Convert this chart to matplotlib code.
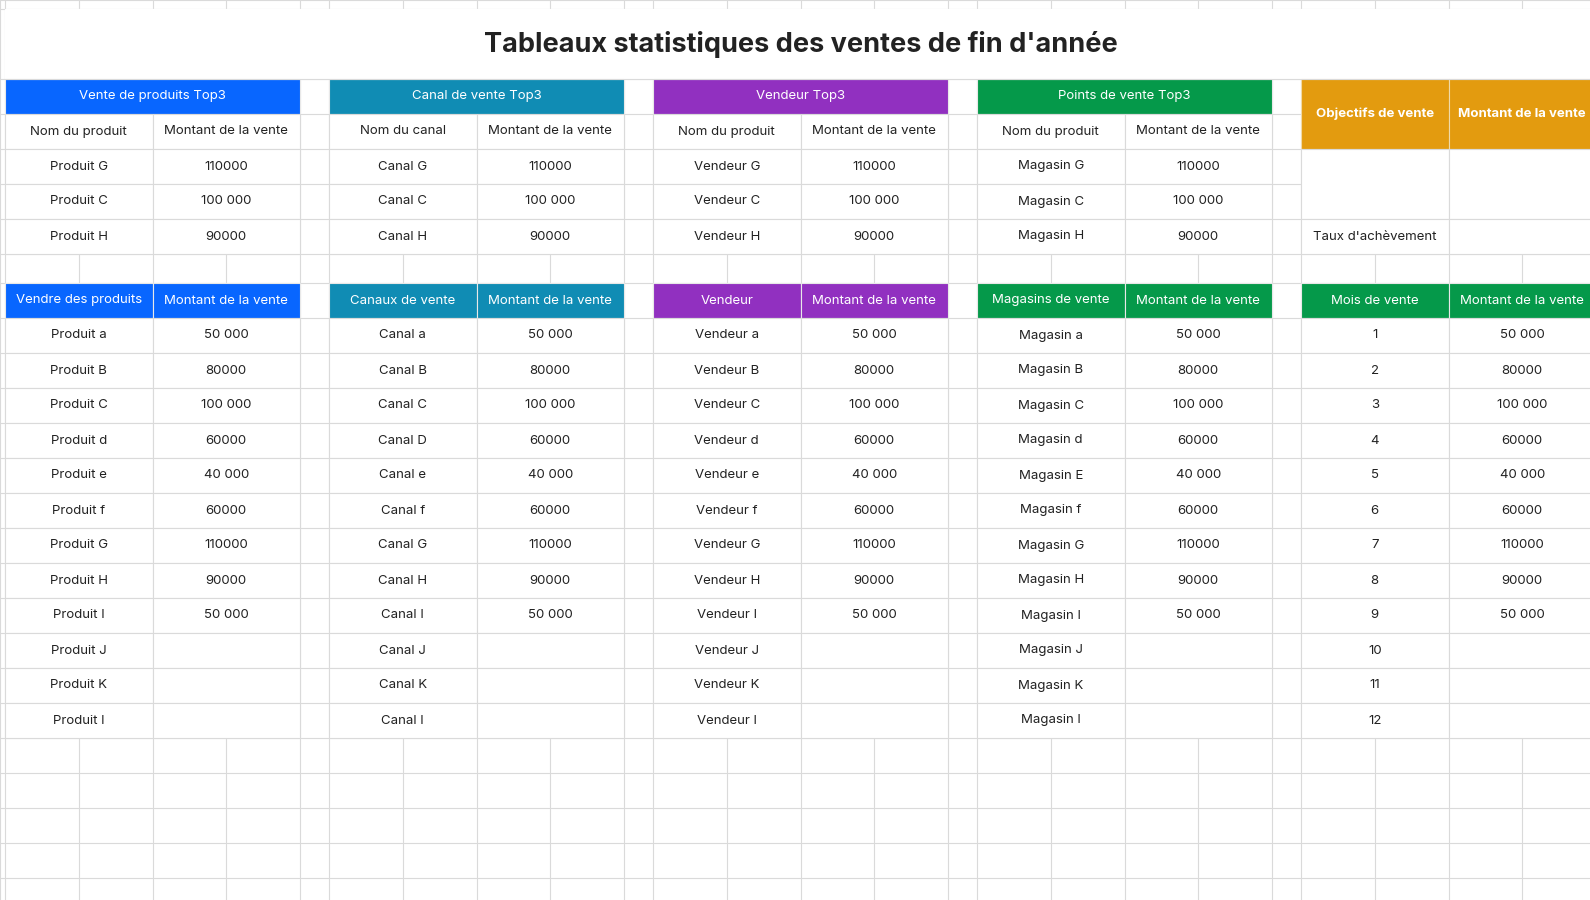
import matplotlib
matplotlib.use("Agg")
import matplotlib.pyplot as plt
from matplotlib.patches import Rectangle

plt.rcParams['font.family'] = ['Inter', 'DejaVu Sans']

title = "Tableaux statistiques des ventes de fin d'année"
top_titles = ["Vente de produits Top3", "Canal de vente Top3", "Vendeur Top3", "Points de vente Top3"]
top_sub = ["Nom du produit", "Nom du canal", "Nom du produit", "Nom du produit"]
top_names = [["Produit G", "Produit C", "Produit H"],
             ["Canal G", "Canal C", "Canal H"],
             ["Vendeur G", "Vendeur C", "Vendeur H"],
             ["Magasin G", "Magasin C", "Magasin H"]]
top_amounts = ["110000", "100 000", "90000"]
bottom_headers = ["Vendre des produits", "Canaux de vente", "Vendeur", "Magasins de vente", "Mois de vente"]
bottom_names = [
    ["Produit a", "Produit B", "Produit C", "Produit d", "Produit e", "Produit f", "Produit G", "Produit H", "Produit I", "Produit J", "Produit K", "Produit l"],
    ["Canal a", "Canal B", "Canal C", "Canal D", "Canal e", "Canal f", "Canal G", "Canal H", "Canal I", "Canal J", "Canal K", "Canal l"],
    ["Vendeur a", "Vendeur B", "Vendeur C", "Vendeur d", "Vendeur e", "Vendeur f", "Vendeur G", "Vendeur H", "Vendeur I", "Vendeur J", "Vendeur K", "Vendeur l"],
    ["Magasin a", "Magasin B", "Magasin C", "Magasin d", "Magasin E", "Magasin f", "Magasin G", "Magasin H", "Magasin I", "Magasin J", "Magasin K", "Magasin l"],
    ["1", "2", "3", "4", "5", "6", "7", "8", "9", "10", "11", "12"]]
bottom_amounts = ["50 000", "80000", "100 000", "60000", "40 000", "60000", "110000", "90000", "50 000", "", "", ""]
amount_label = "Montant de la vente"
goal_headers = ["Objectifs de vente", "Montant de la vente"]
goal_rate = "Taux d'achèvement"
colors = ["#0866FF", "#108CB4", "#9130C0", "#05994A", "#E39B0F"]

W, H = 1590, 900
fig = plt.figure(figsize=(15.9, 9), dpi=100)
ax = fig.add_axes([0, 0, 1, 1])
ax.set_xlim(0, W); ax.set_ylim(H, 0); ax.axis('off')
GRID = "#dadada"; TXT = "#222222"
lw = 0.8
CW, SW = 73.75, 29
FS = 9.5

xs = [0, 5]
for g in range(5):
    for k in range(4):
        xs.append(xs[-1] + CW)
    if g < 4:
        xs.append(xs[-1] + SW)
ys = [0, 9, 79, 114, 149, 184, 219, 254, 283]
while ys[-1] < H:
    ys.append(ys[-1] + 35)

for x in xs:
    ax.plot([x, x], [0, H], color=GRID, lw=lw, zorder=1)
for y in ys:
    ax.plot([0, W], [y, y], color=GRID, lw=lw, zorder=1)

def cell(x0, x1, y0, y1, face="white", edge=GRID, text="", tc=TXT, bold=False, fs=FS):
    ax.add_patch(Rectangle((x0, y0), x1 - x0, y1 - y0, facecolor=face, edgecolor=edge, lw=lw, zorder=2))
    if text:
        ax.text((x0 + x1) / 2, (y0 + y1) / 2, text, ha='center', va='center', color=tc,
                fontsize=fs, fontweight='bold' if bold else 'normal', zorder=3)

cell(5, W + 5, 9, 79, edge="white")
ax.plot([5, W], [79, 79], color=GRID, lw=lw, zorder=2.5)
ax.text(801, 45, title, ha='center', va='center', fontsize=19.5, fontweight='bold', color="#222222", zorder=3)

def gx(g):
    return 5 + g * (4 * CW + SW)

for g in range(4):
    x0 = gx(g); xm = x0 + 2 * CW; x1 = x0 + 4 * CW
    c = colors[g]
    cell(x0, x1, 79, 114, face=c, edge="#e8e8e8", text=top_titles[g], tc="white")
    cell(x0, xm, 114, 149, text=top_sub[g])
    cell(xm, x1, 114, 149, text=amount_label)
    for i in range(3):
        cell(x0, xm, ys[4 + i], ys[5 + i], text=top_names[g][i])
        cell(xm, x1, ys[4 + i], ys[5 + i], text=top_amounts[i])

x0 = gx(4); xm = x0 + 2 * CW; x1 = x0 + 4 * CW
cell(x0, xm, 79, 149, face=colors[4], edge="#f0d9a8", text=goal_headers[0], tc="white", bold=True)
cell(xm, x1, 79, 149, face=colors[4], edge="#f0d9a8", text=goal_headers[1], tc="white", bold=True)
cell(x0, xm, 149, 219); cell(xm, x1, 149, 219)
cell(x0, xm, 219, 254, text=goal_rate); cell(xm, x1, 219, 254)

hcol = [colors[0], colors[1], colors[2], colors[3], colors[3]]
for g in range(5):
    x0 = gx(g); xm = x0 + 2 * CW; x1 = x0 + 4 * CW
    cell(x0, xm, 283, 318, face=hcol[g], edge="#e8e8e8", text=bottom_headers[g], tc="white")
    cell(xm, x1, 283, 318, face=hcol[g], edge="#e8e8e8", text=amount_label, tc="white")
    for i in range(12):
        y0 = 318 + 35 * i
        cell(x0, xm, y0, y0 + 35, text=bottom_names[g][i])
        cell(xm, x1, y0, y0 + 35, text=bottom_amounts[i])

fig.savefig("out.png", dpi=100)
